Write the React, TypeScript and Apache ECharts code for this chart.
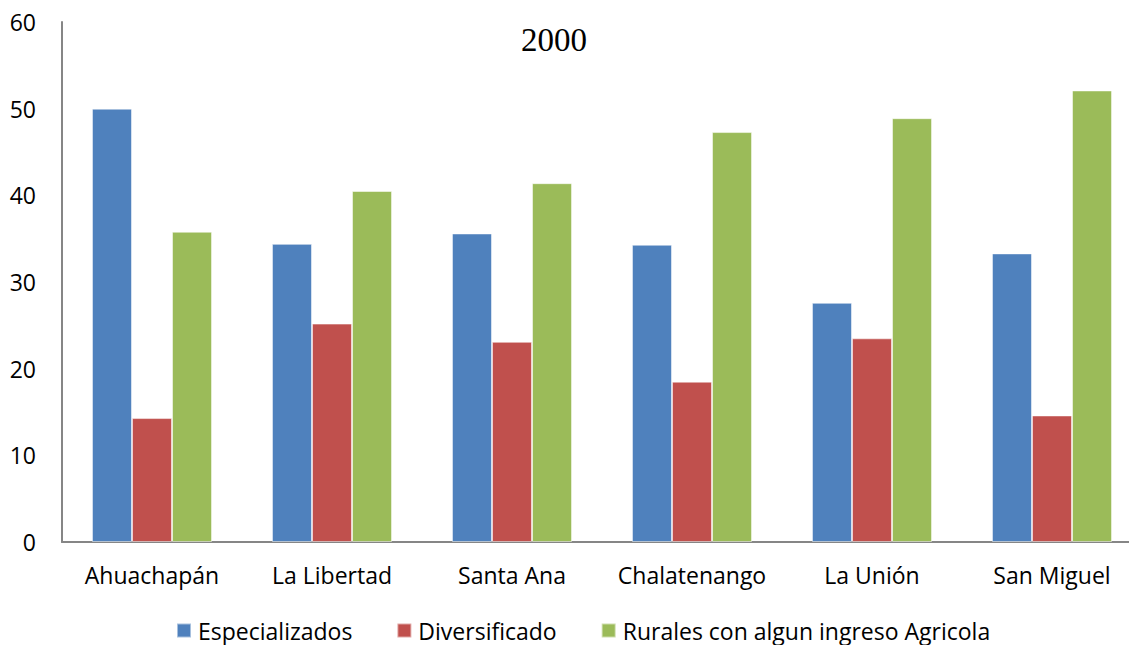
import React, { useEffect, useRef } from "react";
import * as echarts from "echarts";

const categories = ["Ahuachapán", "La Libertad", "Santa Ana", "Chalatenango", "La Unión", "San Miguel"];
const especializados = [50.0, 34.4, 35.6, 34.3, 27.6, 33.3];
const diversificado = [14.3, 25.2, 23.1, 18.5, 23.5, 14.6];
const rurales = [35.8, 40.5, 41.4, 47.3, 48.9, 52.1];
const seriesNames = ["Especializados", "Diversificado", "Rurales con algun ingreso Agricola"];
const colors = ["#4F81BD", "#C0504D", "#9BBB59"];
const titleText = "2000";

const FONT = "'Open Sans', sans-serif";

export default function App() {
  const ref = useRef<HTMLDivElement>(null);
  useEffect(() => {
    if (!ref.current) return;
    const chart = echarts.init(ref.current, undefined, { renderer: "svg" });
    const data = [especializados, diversificado, rurales];
    chart.setOption({
      animation: false,
      backgroundColor: "#ffffff",
      title: {
        text: titleText,
        left: 521,
        top: 23,
        padding: 0,
        textStyle: { fontFamily: "'Liberation Serif', serif", fontSize: 33, fontWeight: "normal", color: "#000" },
      },
      legend: {
        left: 176,
        top: 619,
        padding: 0,
        itemWidth: 14,
        itemHeight: 14,
        itemGap: 44,
        icon: "rect",
        textStyle: { fontFamily: FONT, fontSize: 23, color: "#000", padding: [0, 0, 0, 2] },
        data: seriesNames,
      },
      grid: { left: 62, right: 0, top: 22, bottom: 103, containLabel: false },
      xAxis: {
        type: "category",
        data: categories,
        axisLine: { lineStyle: { color: "#868686", width: 2 } },
        axisTick: { show: false },
        axisLabel: { interval: 0, fontFamily: FONT, fontSize: 23, color: "#000", margin: 21, hideOverlap: false },
      },
      yAxis: {
        type: "value",
        min: 0,
        max: 60,
        interval: 10,
        axisLine: { show: true, lineStyle: { color: "#868686", width: 2 } },
        axisTick: { show: false },
        splitLine: { show: false },
        axisLabel: { fontFamily: FONT, fontSize: 23, color: "#000", margin: 26 },
      },
      series: seriesNames.map((name, i) => ({
        name,
        type: "bar",
        data: data[i],
        barGap: "0%",
        barCategoryGap: "33.3%",
        itemStyle: { color: colors[i], borderColor: "rgba(255,255,255,0.5)", borderWidth: 1 },
      })),
    });
    return () => chart.dispose();
  }, []);
  return (
    <div style={{ position: "fixed", left: 0, top: 0, width: 1129, height: 645, overflow: "hidden" }}>
      <div ref={ref} style={{ position: "absolute", left: 0, top: 0, width: 1142, height: 645 }} />
    </div>
  );
}
